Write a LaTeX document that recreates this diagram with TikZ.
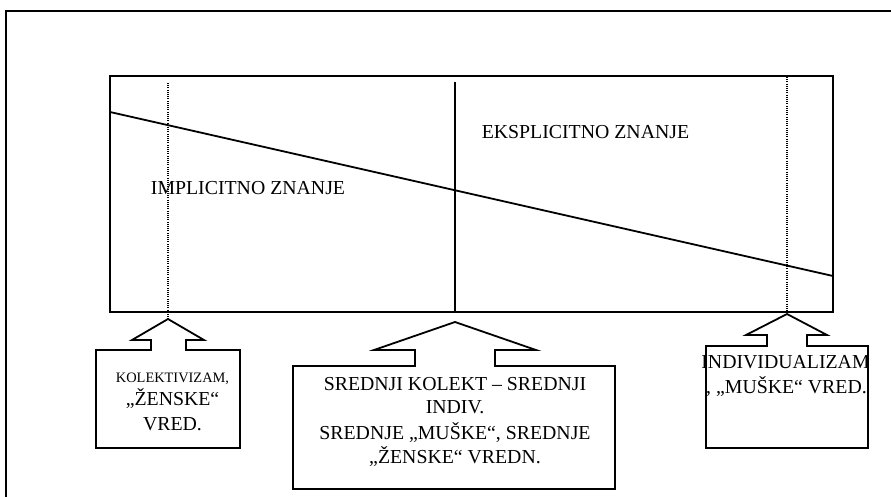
\documentclass[tikz,border=0pt]{standalone}
\usepackage{fontspec}
\setmainfont{Liberation Serif}
\begin{document}
\begin{tikzpicture}[x=1pt,y=-1pt,
  line join=miter,
  edge/.style={line width=1.8pt},
  guide/.style={line width=1.4pt, dash pattern=on 1pt off 1.2pt},
  txt/.style={anchor=base, inner sep=0pt, font=\fontsize{19.8}{24}\selectfont},
  smalltxt/.style={anchor=base, inner sep=0pt, font=\fontsize{14.4}{18}\selectfont}]
\useasboundingbox (0,0) rectangle (891,496);

% outer page frame
\draw[edge] (6,497) -- (6,11) -- (892,11);

% knowledge field
\draw[edge] (110,76) rectangle (833,312);
\coordinate (slopeL) at (110,112);
\coordinate (slopeR) at (833,276);
\draw[edge] (slopeL) -- (slopeR);

% markers and tips of the arrow boxes
\coordinate (tipL) at (168,319);
\coordinate (tipM) at (455,322);
\coordinate (tipR) at (787,314);
\coordinate (topL) at (168,83);
\coordinate (topM) at (455,82);
\coordinate (topR) at (787,77);
\draw[guide] (topL) -- ([yshift=-1pt]tipL);
\draw[edge] (topM) -- (455,313);
\draw[guide] (topR) -- (tipR);

% arrow-shaped callout boxes
\draw[edge] (tipL) -- (204,340) -- (186,340) -- (186,350) -- (240,350) -- (240,448)
  -- (96,448) -- (96,350) -- (151,350) -- (151,340) -- (132,340) -- cycle;
\draw[edge] (tipM) -- (536,350) -- (495,350) -- (495,366) -- (615,366) -- (615,489)
  -- (293,489) -- (293,366) -- (415,366) -- (415,350) -- (374,350) -- cycle;
\draw[edge] (tipR) -- (827,335) -- (807,335) -- (807,346) -- (868,346) -- (868,448)
  -- (706,448) -- (706,346) -- (767,346) -- (767,335) -- (746,335) -- cycle;

% field labels
\node[txt] (impl) at (248,194.5) {IMPLICITNO ZNANJE};
\node[txt] (ekspl) at (585.5,138.5) {EKSPLICITNO ZNANJE};

% left callout
\node[smalltxt] (kol1) at (172.5,382) {KOLEKTIVIZAM,};
\node[txt] (kol2) at (172.5,405.5) {„ŽENSKE“};
\node[txt] (kol3) at (172.5,430.5) {VRED.};

% middle callout
\node[txt] (sr1) at (455,390.5) {SREDNJI KOLEKT – SREDNJI};
\node[txt] (sr2) at (455,413.5) {INDIV.};
\node[txt] (sr3) at (455,439.5) {SREDNJE „MUŠKE“, SREDNJE};
\node[txt] (sr4) at (455,463.5) {„ŽENSKE“ VREDN.};

% right callout
\node[txt] (ind1) at (785.5,368.5) {INDIVIDUALIZAM};
\node[txt] (ind2) at (786.5,393.5) {, „MUŠKE“ VRED.};
\end{tikzpicture}
\end{document}
